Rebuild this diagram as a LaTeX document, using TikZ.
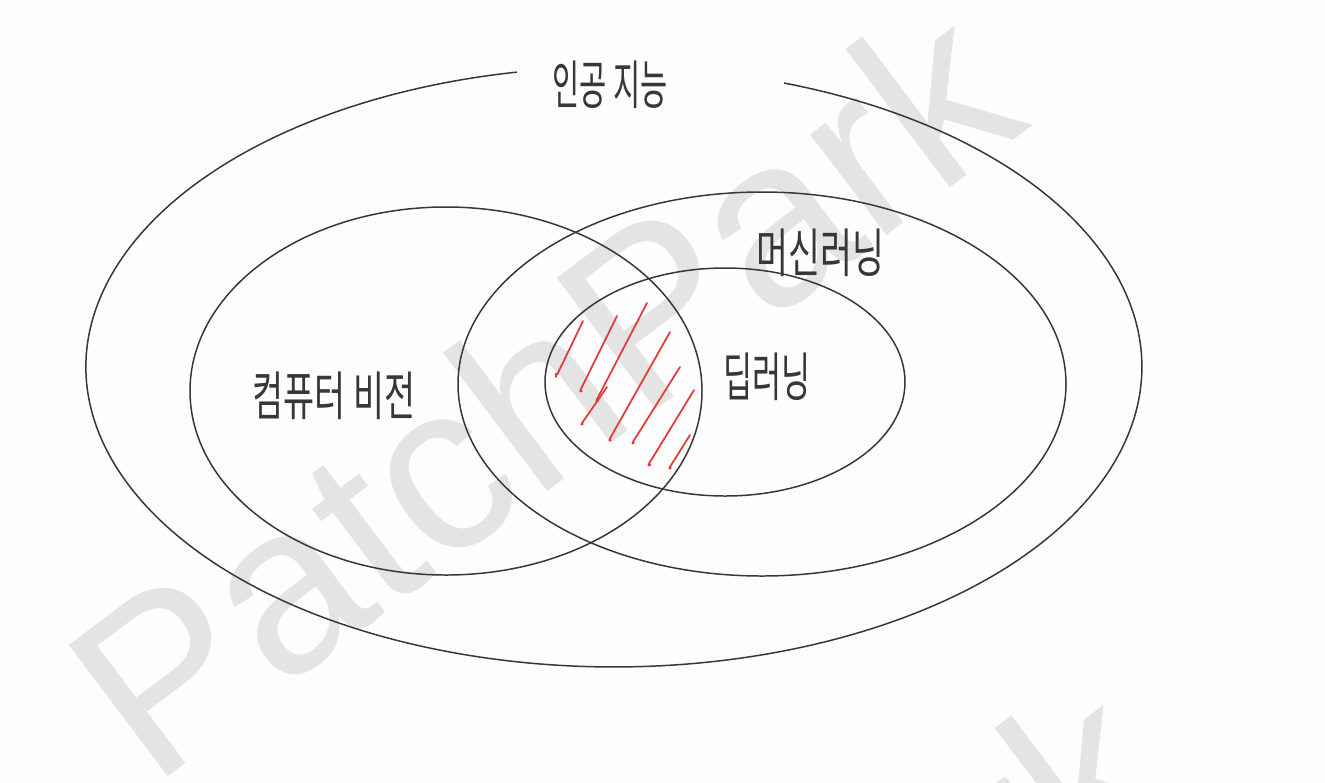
\documentclass[tikz,border=0pt]{standalone}
\usepackage{fontspec}
\newfontfamily\krfont{Noto Sans CJK KR}
\newfontfamily\markfont{Liberation Sans}
\definecolor{paper}{RGB}{253,253,253}
\definecolor{pen}{RGB}{55,55,55}
\definecolor{redpen}{RGB}{230,58,58}
\definecolor{stamp}{RGB}{228,228,228}
\tikzset{
  setline/.style={pen, line width=0.85pt},
  hand/.style={font=\krfont\fontsize{30}{30}\selectfont, text=pen, inner sep=0pt},
  hatch/.style={redpen, line width=1pt, line cap=round, line join=round, rounded corners=2pt},
  stamptext/.style={font=\markfont\fontsize{136}{136}\selectfont, text=stamp, inner sep=0pt, anchor=base west, rotate=37}
}

\begin{document}
\begin{tikzpicture}[x=0.02cm,y=-0.02cm]
        % fix the page
        \useasboundingbox (0,0) rectangle (1325,782);
        \fill[paper] (0,0) rectangle (1325,782);
        \clip (0,0) rectangle (1325,782);

        % watermark behind everything
        \node[stamptext] (mark) at (152,789) {PatchPark};
        \node[stamptext] (markb) at (301,1468) {PatchPark};

        % centres of the sets
        \coordinate (aic) at (614,371);
        \coordinate (cvc) at (446,391);
        \coordinate (mlc) at (762,384);
        \coordinate (dlc) at (725,382);

        % outer set, open at the top for its label
        \coordinate (aigap) at (784,83);
        \draw[setline] (aigap) arc[start angle=71.2, end angle=-259.4, x radius=10.56cm, y radius=6cm];

        % the inner sets
        \draw[setline] (cvc) ellipse[x radius=256, y radius=184];
        \draw[setline] (mlc) ellipse[x radius=304, y radius=192];
        \draw[setline] (dlc) ellipse[x radius=180, y radius=114];

        % red hatching where vision meets deep learning
        \foreach \xa/\ya/\xb/\yb/\h in {
            583/321/556/377/0,
            617/316/579/393/4,
            647/303/595/403/5,
            607/387/580/426/4,
            670/332/608/442/4,
            680/367/631/445/4,
            694/390/647/467/5,
            690/435/668/470/3}
                \draw[hatch] (\xa,\ya) -- (\xb,\yb) -- ++(\h*0.7,-\h*0.5);

        % labels
        \node[hand, xscale=0.56] (ailabel) at (610,85) {인공 지능};
        \node[hand, xscale=0.66] (mllabel) at (820,253) {머신러닝};
        \node[hand, xscale=0.60] (dllabel) at (767,377) {딥러닝};
        \node[hand, xscale=0.64] (cvlabel) at (334,396) {컴퓨터 비전};
\end{tikzpicture}
\end{document}
